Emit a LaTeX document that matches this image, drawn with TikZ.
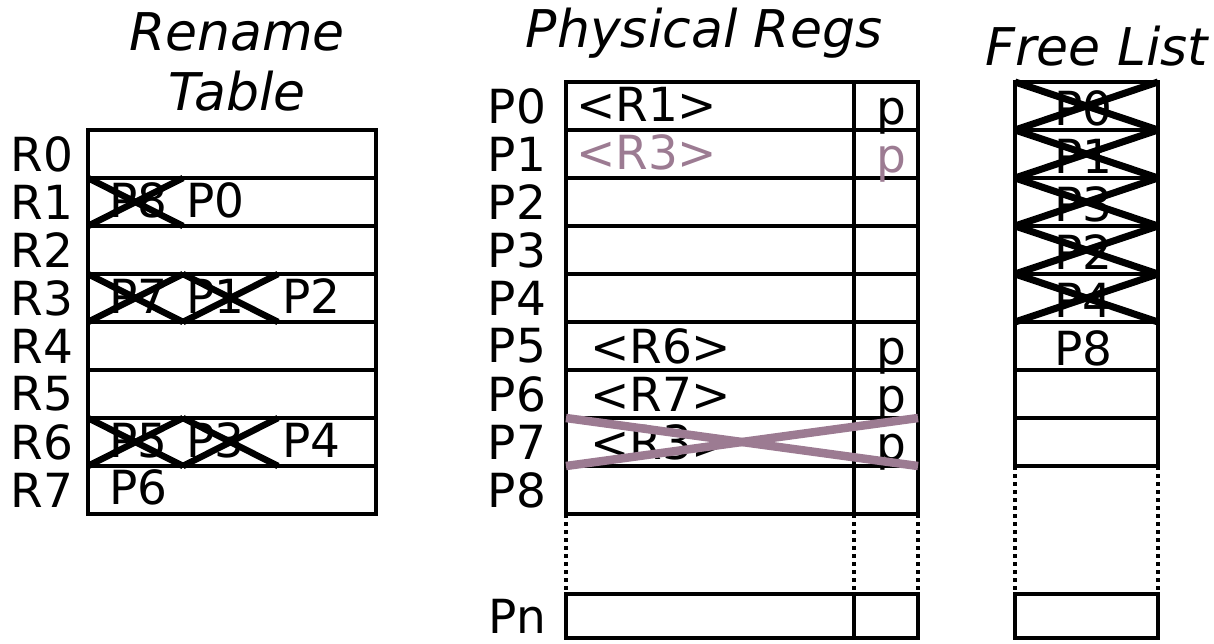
\documentclass[tikz,border=0pt]{standalone}
\usepackage{fontspec}
\setmainfont{DejaVu Sans}
\usepackage{xcolor}
\usetikzlibrary{positioning}
\definecolor{mauve}{HTML}{9C7B92}

\begin{document}
\begin{tikzpicture}[
  x=1pt, y=-1pt,
  every node/.style={font=\fontsize{47}{52}\selectfont, inner sep=0pt, outer sep=0pt},
  title/.style={font=\fontsize{52}{58}\selectfont\itshape, anchor=base},
  row/.style={rectangle, draw, line width=4.5pt, minimum height=48pt},
  entry/.style={anchor=base west},
  xmark/.style={line width=6.5pt},
  pxmark/.style={line width=8.5pt, mauve},
  dots/.style={line width=4.5pt, dash pattern=on 4pt off 4pt}
]
\useasboundingbox (0,0) rectangle (1214,643);

% ---- Rename Table ----
\node[title] (rtTitleA) at (237,50) {Rename};
\node[title] (rtTitleB) at (237,110) {Table};
\foreach \i in {0,...,7} {
  \node[row, minimum width=288pt] (rt\i) at (232,154+48*\i) {};
  \node[left=15pt of rt\i] (rl\i) {R\i};
}
\node[entry] (r1a) at ([xshift=21pt,yshift=9pt]rt1.south west) {P8};
\node[entry] (r1b) at ([xshift=98pt,yshift=9pt]rt1.south west) {P0};
\node[entry] (r3a) at ([xshift=21pt,yshift=9pt]rt3.south west) {P7};
\node[entry] (r3b) at ([xshift=98pt,yshift=9pt]rt3.south west) {P1};
\node[entry] (r3c) at ([xshift=194pt,yshift=9pt]rt3.south west) {P2};
\node[entry] (r6a) at ([xshift=21pt,yshift=9pt]rt6.south west) {P5};
\node[entry] (r6b) at ([xshift=98pt,yshift=9pt]rt6.south west) {P3};
\node[entry] (r6c) at ([xshift=194pt,yshift=9pt]rt6.south west) {P4};
\node[entry] (r7a) at ([xshift=21pt,yshift=10pt]rt7.south west) {P6};
\foreach \r/\a/\b in {1/0/95, 3/0/95, 3/95/190, 6/0/95, 6/95/190} {
  \draw[xmark] ([xshift=\a pt]rt\r.north west) -- ([xshift=\b pt]rt\r.south west);
  \draw[xmark] ([xshift=\a pt]rt\r.south west) -- ([xshift=\b pt]rt\r.north west);
}

% ---- Physical Regs ----
\node[title] (prTitle) at (704,47) {Physical Regs};
\foreach \i in {0,...,8} {
  \node[row, minimum width=288pt] (pv\i) at (710,106+48*\i) {};
  \node[row, minimum width=64pt, right=0pt of pv\i] (pp\i) {};
  \node[left=20pt of pv\i] (pl\i) {P\i};
}
\node[row, minimum width=288pt, minimum height=44pt] (pvn) at (710,616) {};
\node[row, minimum width=64pt, minimum height=44pt, right=0pt of pvn] (ppn) {};
\node[left=20pt of pvn] (pln) {Pn};
\draw[dots] (pv8.south west) -- (pvn.north west);
\draw[dots] (pv8.south east) -- (pvn.north east);
\draw[dots] (pp8.south east) -- (ppn.north east);

\node[entry] (pv0t) at ([xshift=10pt,yshift=9pt]pv0.south west) {<R1>};
\node[entry, text=mauve] (pv1t) at ([xshift=10pt,yshift=9pt]pv1.south west) {<R3>};
\node[entry] (pv5t) at ([xshift=24pt,yshift=7pt]pv5.south west) {<R6>};
\node[entry] (pv6t) at ([xshift=24pt,yshift=7pt]pv6.south west) {<R7>};
\node[entry] (pv7t) at ([xshift=24pt,yshift=7pt]pv7.south west) {<R3>};
\foreach \i in {0,5,6,7} {
  \node[entry] (pp\i t) at ([xshift=22pt,yshift=6pt]pp\i.south west) {p};
}
\node[entry, text=mauve] (pp1t) at ([xshift=22pt,yshift=6pt]pp1.south west) {p};
\draw[pxmark] (pv7.north west) -- (pp7.south east);
\draw[pxmark] (pv7.south west) -- (pp7.north east);

% ---- Free List ----
\node[title] (flTitle) at (1097,65) {Free List};
\foreach \i in {0,...,7} {
  \node[row, minimum width=143pt] (fl\i) at (1086.5,106+48*\i) {};
}
\foreach \i/\t in {0/P0, 1/P1, 2/P3, 3/P2, 4/P4, 5/P8} {
  \node[anchor=base] (ft\i) at ([xshift=-3pt,yshift=5pt]fl\i.south) {\t};
}
\foreach \i in {0,...,4} {
  \draw[xmark, line width=7pt] (fl\i.north west) -- (fl\i.south east);
  \draw[xmark, line width=7pt] (fl\i.south west) -- (fl\i.north east);
}
\node[row, minimum width=143pt, minimum height=44pt] (flb) at (1086.5,616) {};
\draw[dots] (fl7.south west) -- (flb.north west);
\draw[dots] (fl7.south east) -- (flb.north east);

\end{tikzpicture}
\end{document}
